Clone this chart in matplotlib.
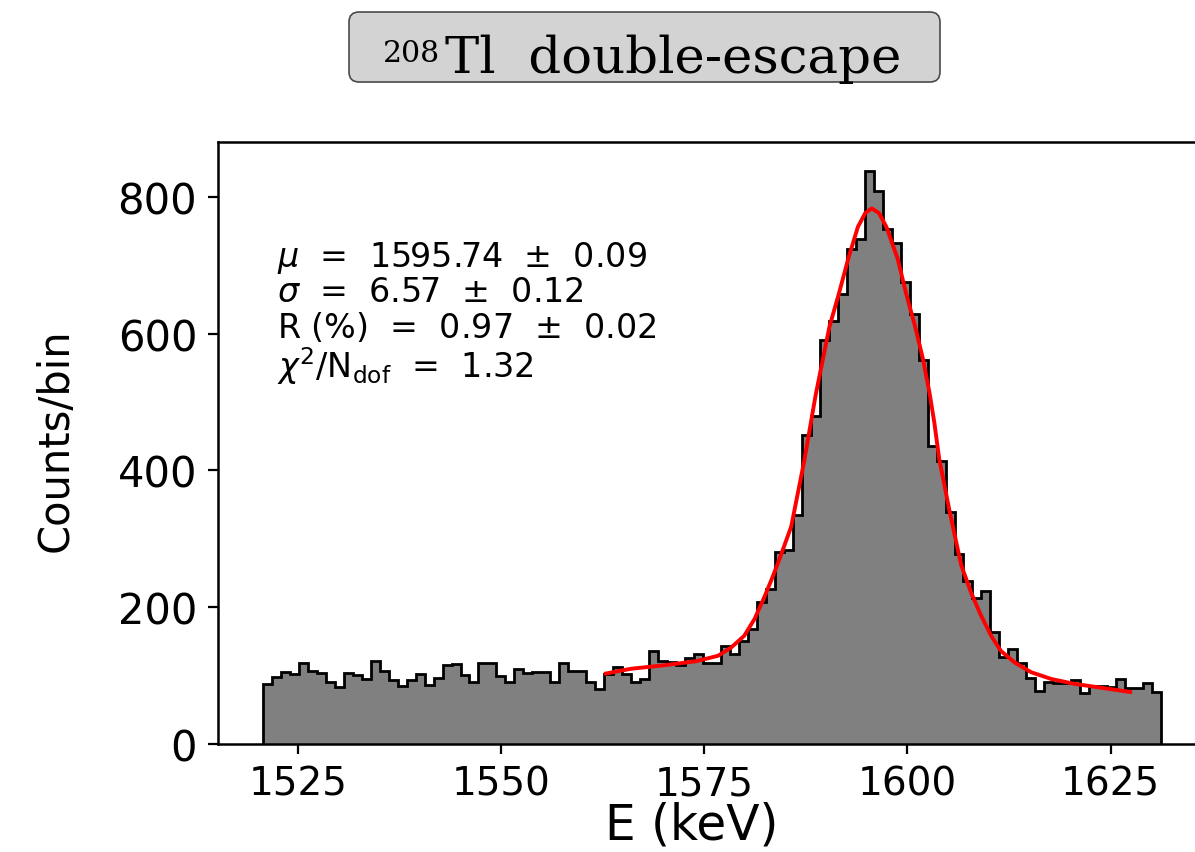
import numpy as np
import matplotlib
matplotlib.use("Agg")
import matplotlib.pyplot as plt
from matplotlib.patches import FancyBboxPatch

# ---- data ----
counts = [88, 98, 105, 102, 118, 107, 104, 91, 83, 104,
          101, 95, 122, 107, 93, 85, 94, 103, 86, 96,
          115, 117, 101, 91, 118, 118, 100, 90, 110, 104,
          105, 105, 91, 118, 107, 106, 90, 80, 102, 112,
          102, 90, 95, 136, 122, 120, 115, 125, 132, 118,
          118, 143, 132, 150, 168, 208, 227, 280, 283, 335,
          452, 480, 590, 619, 658, 724, 738, 838, 809, 753,
          733, 675, 629, 562, 436, 413, 339, 278, 238, 214,
          224, 164, 127, 139, 119, 96, 78, 91, 89, 89,
          93, 75, 85, 85, 84, 95, 82, 82, 89, 76]
bin_lo, bin_hi = 1520.7, 1631.2

fit_E = [1562.9, 1566.0, 1570.0, 1574.0, 1576.7, 1578.3, 1579.9, 1581.2,
         1582.4, 1583.4, 1584.3, 1585.7, 1587.3, 1588.7, 1590.4, 1591.6,
         1592.7, 1593.9, 1594.8, 1595.6, 1596.5, 1597.4, 1598.8, 1599.8,
         1600.9, 1601.9, 1602.7, 1603.3, 1603.9, 1605.2, 1606.6, 1607.8,
         1609.0, 1610.3, 1611.5, 1613.2, 1615.2, 1617.7, 1620.5, 1623.4, 1627.4]
fit_y = [103, 110, 115, 121, 129, 141, 158, 183,
         215, 244, 272, 318, 414, 510, 610, 660,
         709, 756, 776, 783, 776, 756, 709, 660,
         612, 563, 514, 470, 417, 339, 262, 222,
         189, 158, 136, 119, 105, 95, 88, 83, 76]

x_ticks = [1525, 1550, 1575, 1600, 1625]
y_ticks = [0, 200, 400, 600, 800]
stats_lines = [r"$\mu$  =  1595.74  $\pm$  0.09",
               r"$\sigma$  =  6.57  $\pm$  0.12",
               r"R (%)  =  0.97  $\pm$  0.02",
               r"$\chi^2$/N$_{\mathrm{dof}}$  =  1.32"]
title_sup = "208"
title_main = "Tl  double-escape"

# ---- figure ----
W, H = 1195, 853
fig = plt.figure(figsize=(W / 100, H / 100), dpi=100)


def fx(x):
    return x / W


def fy(y):
    return 1 - y / H


ax = fig.add_axes([fx(218), fy(745), (1206 - 218) / W, (745 - 143) / H])
edges = np.linspace(bin_lo, bin_hi, len(counts) + 1)
ax.stairs(counts, edges, fill=True, facecolor="#808080",
          edgecolor="black", linewidth=2.0)
ax.plot(fit_E, fit_y, color="red", lw=2.8)

span = edges[-1] - edges[0]
ax.set_xlim(edges[0] - 0.05 * span, edges[-1] + 0.05 * span)
ax.set_ylim(0, 880)
ax.set_xticks(x_ticks)
ax.set_yticks(y_ticks)
ax.tick_params(length=7, width=1.6, pad=8)
ax.tick_params(axis="x", labelsize=28)
ax.tick_params(axis="y", labelsize=30)
for s in ax.spines.values():
    s.set_linewidth(1.8)

ax.set_xlabel("E (keV)", fontsize=35)
ax.set_ylabel("Counts/bin", fontsize=30)
ax.xaxis.set_label_coords((692 - 218) / 988, (745 - 802) / 602)
ax.yaxis.set_label_coords((77 - 218) / 988, (745 - 440) / 602)

baselines = [267, 302, 338, 378]
for txt, yb in zip(stats_lines, baselines):
    fig.text(fx(277), fy(yb), txt, fontsize=24, va="baseline", ha="left")

# title box
box = FancyBboxPatch((349 / 100, (H - 83) / 100), 591 / 100, 70 / 100,
                     boxstyle="round,pad=0,rounding_size=0.1",
                     transform=fig.dpi_scale_trans,
                     facecolor="#d3d3d3", edgecolor="#4a4a4a", lw=1.2)
fig.add_artist(box)
fig.text(fx(383), fy(62), title_sup, fontsize=21.5, family="DejaVu Serif",
         va="baseline", ha="left")
fig.text(fx(445), fy(73), title_main, fontsize=37, family="DejaVu Serif",
         va="baseline", ha="left")

fig.savefig("out.png", dpi=100)
